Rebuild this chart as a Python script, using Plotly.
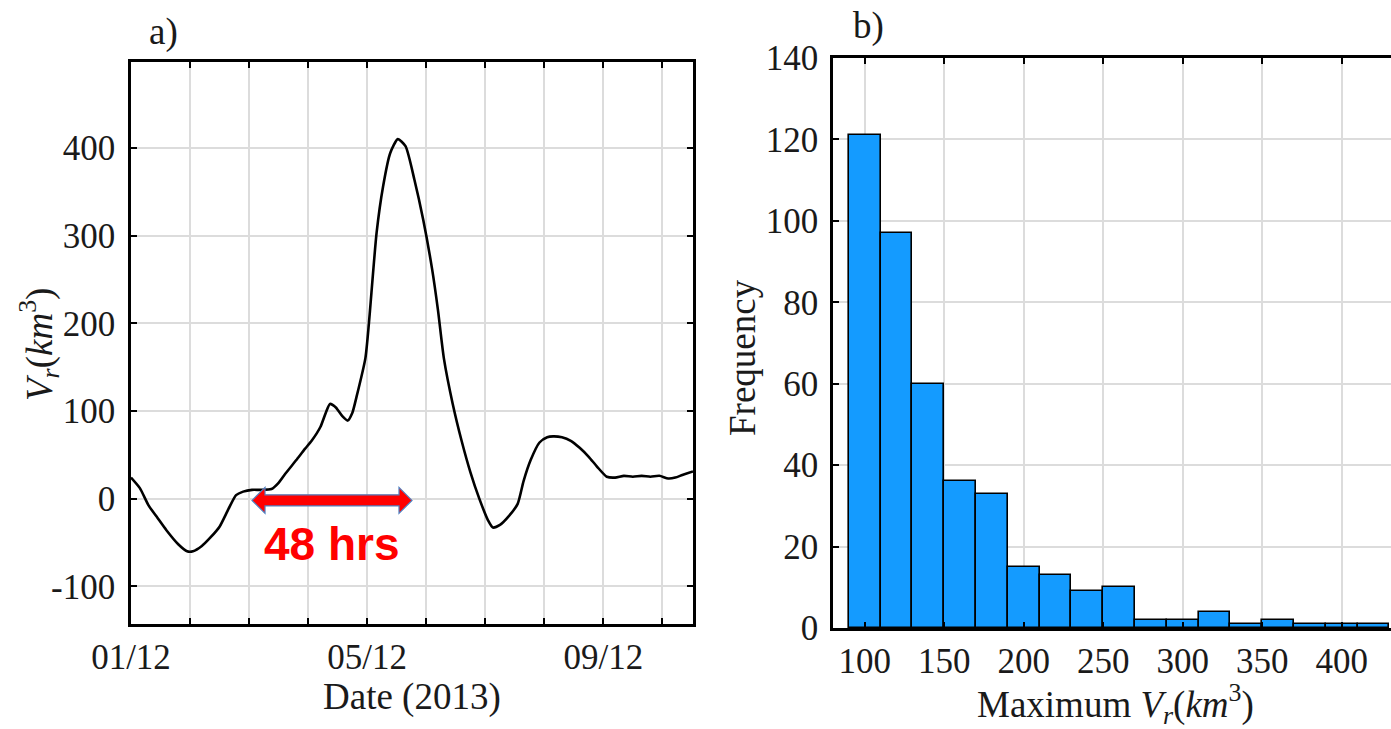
import plotly.graph_objects as go

# ---------------- data ----------------
# Panel a: V_r time series (days since 01/12/2013)
days = [0.00, 0.15, 0.30, 0.45, 0.60, 0.80, 0.95, 1.05, 1.20, 1.35, 1.50, 1.65, 1.78, 1.90,
        2.05, 2.20, 2.38, 2.50, 2.61, 2.80, 2.95, 3.06, 3.21, 3.30, 3.37, 3.47, 3.58, 3.67,
        3.75, 3.82, 3.97, 4.03, 4.16, 4.27, 4.39, 4.52, 4.65, 4.80, 4.95, 5.10, 5.20, 5.30,
        5.45, 5.60, 5.75, 5.90, 6.05, 6.13, 6.25, 6.40, 6.55, 6.65, 6.77, 6.92, 7.05, 7.15,
        7.30, 7.45, 7.60, 7.75, 7.90, 8.06, 8.20, 8.35, 8.50, 8.65, 8.80, 8.95, 9.10, 9.22,
        9.34, 9.52]
vr = [24, 12, -8, -22, -36, -52, -60, -60, -54, -44, -32, -12, 4, 8,
      10, 10, 11, 18, 28, 44, 57, 66, 82, 98, 108, 104, 94, 89,
      98, 116, 160, 200, 303, 356, 394, 410, 402, 364, 318, 262, 215, 160,
      108, 66, 30, 0, -25, -33, -30, -20, -6, 20, 44, 64, 70, 71,
      70, 66, 58, 48, 36, 25, 24, 26, 25, 26, 25, 26, 23, 24,
      27, 31]
day_ticks = [0, 1, 2, 3, 4, 5, 6, 7, 8, 9]
day_labels = ["01/12", "", "", "", "05/12", "", "", "", "09/12", ""]
vr_ticks = [-100, 0, 100, 200, 300, 400]
vr_labels = ["-100", "0", "100", "200", "300", "400"]

# Panel b: histogram of maximum V_r
bin_left = [90, 110, 130, 150, 170, 190, 210, 230, 250, 270, 290, 310, 330, 350, 370, 390, 410]
counts = [121, 97, 60, 36, 33, 15, 13, 9, 10, 2, 2, 4, 1, 2, 1, 1, 1]
bin_width = 20
hist_xticks = [100, 150, 200, 250, 300, 350, 400]
hist_yticks = [0, 20, 40, 60, 80, 100, 120, 140]

# arrow annotation (data units of panel a)
arrow_start, arrow_end, arrow_y = 2.05, 4.76, -2

# ---------------- figure ----------------
W, H = 1391, 729
SERIF = "Liberation Serif"
FS = 35      # tick labels
FT = 37      # titles
TXT = "#1a1a1a"

fig = go.Figure()

fig.add_trace(go.Scatter(
    x=days, y=vr, mode="lines", line=dict(color="black", width=2.6, shape="spline", smoothing=0.6),
    xaxis="x", yaxis="y", showlegend=False, hoverinfo="skip"))

centers = [b + bin_width / 2 for b in bin_left]
fig.add_trace(go.Bar(
    x=centers, y=counts, width=[bin_width] * len(counts),
    marker=dict(color="#149BFF", line=dict(color="black", width=1.6)),
    xaxis="x2", yaxis="y2", showlegend=False, hoverinfo="skip"))

def px_x(p):
    return p / W

def px_y(p):
    return 1 - p / H

axis_common = dict(
    showline=True, linecolor="black", linewidth=2.6,
    showgrid=True, gridcolor="#dcdcdc", gridwidth=1.6,
    ticks="inside", ticklen=6, tickwidth=2, tickcolor="black",
    zeroline=False, automargin=False,
    tickfont=dict(family=SERIF, size=FS, color=TXT),
)

fig.update_layout(
    width=W, height=H,
    margin=dict(l=0, r=0, t=0, b=0, autoexpand=False),
    paper_bgcolor="white", plot_bgcolor="white",
    xaxis=dict(domain=[px_x(131), px_x(693)], range=[0, 9.52], tickvals=day_ticks,
               ticktext=day_labels, mirror="ticks", anchor="y", **axis_common),
    yaxis=dict(domain=[px_y(624), px_y(62)], range=[-143, 498], tickvals=vr_ticks,
               ticktext=vr_labels, mirror="ticks", anchor="x", ticklabelstandoff=6,
               **axis_common),
    xaxis2=dict(domain=[px_x(833), 1.0], range=[80, 431], tickvals=hist_xticks,
                mirror="ticks", anchor="y2", **axis_common),
    yaxis2=dict(domain=[px_y(628), px_y(58)], range=[0, 140], tickvals=hist_yticks,
                mirror=False, anchor="x2", ticklabelstandoff=5, **axis_common),
    bargap=0,
)

# double-headed arrow (red with blue outline)
hl, hh, sh = 0.22, 14.8, 6.3
x0, x1, yc = arrow_start, arrow_end, arrow_y
path = (f"M {x0},{yc} L {x0+hl},{yc+hh} L {x0+hl},{yc+sh} L {x1-hl},{yc+sh} "
        f"L {x1-hl},{yc+hh} L {x1},{yc} L {x1-hl},{yc-hh} L {x1-hl},{yc-sh} "
        f"L {x0+hl},{yc-sh} L {x0+hl},{yc-hh} Z")
fig.add_shape(type="path", path=path, xref="x", yref="y",
              fillcolor="#FF0000", line=dict(color="#4F7FBF", width=1.2))

def note(x, y, text, size=FT, color=TXT, family=SERIF, angle=0, xref="paper", yref="paper"):
    return dict(x=x, y=y, xref=xref, yref=yref, text=text, showarrow=False,
                xanchor="center", yanchor="middle", textangle=angle,
                font=dict(family=family, size=size, color=color))

ann = [
    note(3.41, -52, "<b>48 hrs</b>", size=46, color="#FF0000", family="Liberation Sans",
         xref="x", yref="y"),
    note(px_x(163), px_y(32), "a)"),
    note(px_x(868), px_y(26), "b)"),
    note(px_x(412), px_y(697), "Date (2013)"),
    note(px_x(1115), px_y(704), "Maximum <i>V<sub>r</sub></i>(<i>km</i><sup>3</sup>)"),
    note(px_x(39), px_y(345), "<i>V<sub>r</sub></i>(<i>km</i><sup>3</sup>)", angle=-90),
    note(px_x(742), px_y(358), "Frequency", angle=-90),
]
fig.update_layout(annotations=ann)

fig.write_html("out.html")
